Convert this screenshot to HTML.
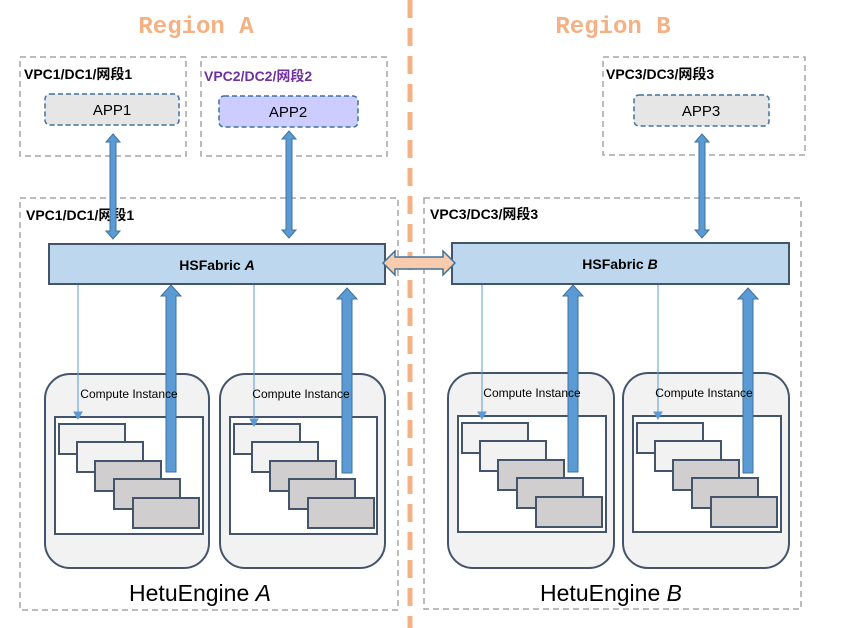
<!DOCTYPE html>
<html><head><meta charset="utf-8"><style>body{margin:0;background:#fff}svg{display:block}</style></head><body>
<svg width="841" height="628" xmlns="http://www.w3.org/2000/svg" font-family="Liberation Sans, 'Noto Sans CJK SC', sans-serif">
<text x="196" y="33" font-family="Liberation Mono, monospace" font-size="24" font-weight="bold" fill="#f4b183" text-anchor="middle">Region A</text>
<text x="613" y="33" font-family="Liberation Mono, monospace" font-size="24" font-weight="bold" fill="#f4b183" text-anchor="middle">Region B</text>
<line x1="410" y1="0" x2="410" y2="628" stroke="#f4b183" stroke-width="5" stroke-dasharray="18,10"/>
<g fill="none" stroke="#a6a6a6" stroke-width="1.5" stroke-dasharray="6,4">
<rect x="20" y="57" width="166" height="99"/>
<rect x="201" y="57" width="186" height="99"/>
<rect x="603" y="57" width="202" height="98"/>
<rect x="20" y="198" width="378" height="412"/>
<rect x="424" y="198" width="377" height="411"/>
</g>
<g font-size="14" font-weight="bold">
<text x="24" y="79" fill="#000">VPC1/DC1/网段1</text>
<text x="204" y="81" fill="#7030a0">VPC2/DC2/网段2</text>
<text x="606" y="79" fill="#000">VPC3/DC3/网段3</text>
<text x="26" y="220" fill="#000">VPC1/DC1/网段1</text>
<text x="430" y="219" fill="#000">VPC3/DC3/网段3</text>
</g>
<g stroke="#41719c" stroke-width="1.5" stroke-dasharray="5,3">
<rect x="45" y="94" width="134" height="31" rx="5" fill="#e7e6e6"/>
<rect x="219" y="96" width="139" height="31" rx="5" fill="#ccccff"/>
<rect x="634" y="95" width="135" height="31" rx="5" fill="#e7e6e6"/>
</g>
<g font-size="15" text-anchor="middle" fill="#000">
<text x="112" y="115">APP1</text><text x="288" y="117">APP2</text><text x="701" y="116">APP3</text>
</g>
<g fill="#5b9bd5" stroke="#41719c" stroke-width="1">
<polygon points="113,134 120,142 116,142 116,231 120,231 113,239 106,231 110,231 110,142 106,142"/>
<polygon points="289,131 296,139 292,139 292,230 296,230 289,238 282,230 286,230 286,139 282,139"/>
<polygon points="702,134 709,142 705,142 705,230 709,230 702,238 695,230 699,230 699,142 695,142"/>
</g>
<rect x="49" y="244" width="336" height="40" fill="#bdd7ee" stroke="#44546a" stroke-width="2"/>
<rect x="452" y="243" width="337" height="41" fill="#bdd7ee" stroke="#44546a" stroke-width="2"/>
<text x="217" y="270" font-size="14" font-weight="bold" text-anchor="middle">HSFabric <tspan font-style="italic">A</tspan></text>
<text x="620" y="269" font-size="14" font-weight="bold" text-anchor="middle">HSFabric <tspan font-style="italic">B</tspan></text>
<polygon points="383,263 395,251 395,257 443,257 443,251 455,263 443,275 443,269 395,269 395,275" fill="#f8cbad" stroke="#41719c" stroke-width="1.5"/>
<g stroke="#44546a" stroke-width="2">
<rect x="45" y="374" width="164" height="194" rx="25" fill="#f2f2f2"/>
<rect x="220" y="374" width="165" height="194" rx="25" fill="#f2f2f2"/>
<rect x="448" y="373" width="166" height="195" rx="25" fill="#f2f2f2"/>
<rect x="623" y="373" width="166" height="195" rx="25" fill="#f2f2f2"/>
<rect x="55" y="417" width="148" height="117" fill="#fff"/>
<rect x="230" y="417" width="147" height="117" fill="#fff"/>
<rect x="458" y="416" width="148" height="116" fill="#fff"/>
<rect x="633" y="416" width="148" height="116" fill="#fff"/>
</g>
<g stroke="#44546a" stroke-width="2">
<g transform="translate(59,424)">
<rect x="0" y="0" width="66" height="30" fill="#f2f2f2"/><rect x="18" y="18" width="66" height="30" fill="#f2f2f2"/><rect x="36" y="37" width="66" height="30" fill="#d0cece"/><rect x="55" y="55" width="66" height="30" fill="#d0cece"/><rect x="74" y="74" width="66" height="30" fill="#d0cece"/>
</g>
<g transform="translate(234,424)">
<rect x="0" y="0" width="66" height="30" fill="#f2f2f2"/><rect x="18" y="18" width="66" height="30" fill="#f2f2f2"/><rect x="36" y="37" width="66" height="30" fill="#d0cece"/><rect x="55" y="55" width="66" height="30" fill="#d0cece"/><rect x="74" y="74" width="66" height="30" fill="#d0cece"/>
</g>
<g transform="translate(462,423)">
<rect x="0" y="0" width="66" height="30" fill="#f2f2f2"/><rect x="18" y="18" width="66" height="30" fill="#f2f2f2"/><rect x="36" y="37" width="66" height="30" fill="#d0cece"/><rect x="55" y="55" width="66" height="30" fill="#d0cece"/><rect x="74" y="74" width="66" height="30" fill="#d0cece"/>
</g>
<g transform="translate(637,423)">
<rect x="0" y="0" width="66" height="30" fill="#f2f2f2"/><rect x="18" y="18" width="66" height="30" fill="#f2f2f2"/><rect x="36" y="37" width="66" height="30" fill="#d0cece"/><rect x="55" y="55" width="66" height="30" fill="#d0cece"/><rect x="74" y="74" width="66" height="30" fill="#d0cece"/>
</g>
</g>
<g stroke="#5b9bd5" stroke-width="1" fill="#5b9bd5">
<line x1="78" y1="285" x2="78" y2="412"/><polygon points="74,412 82,412 78,419"/>
<line x1="254" y1="285" x2="254" y2="419"/><polygon points="250,419 258,419 254,426"/>
<line x1="482" y1="285" x2="482" y2="412"/><polygon points="478,412 486,412 482,419"/>
<line x1="658" y1="285" x2="658" y2="412"/><polygon points="654,412 662,412 658,419"/>
</g>
<g fill="#5b9bd5" stroke="#41719c" stroke-width="1">
<polygon points="171,285 181,296 176,296 176,472 166,472 166,296 161,296"/>
<polygon points="347,288 357,299 352,299 352,473 342,473 342,299 337,299"/>
<polygon points="573,285 583,296 578,296 578,472 568,472 568,296 563,296"/>
<polygon points="748,288 758,299 753,299 753,473 743,473 743,299 738,299"/>
</g>
<g font-size="12" text-anchor="middle">
<text x="129" y="398">Compute Instance</text><text x="301" y="398">Compute Instance</text>
<text x="532" y="397">Compute Instance</text><text x="704" y="397">Compute Instance</text>
</g>
<text x="200" y="601" font-size="23" text-anchor="middle">HetuEngine <tspan font-style="italic">A</tspan></text>
<text x="611" y="601" font-size="23" text-anchor="middle">HetuEngine <tspan font-style="italic">B</tspan></text>
</svg>
</body></html>
